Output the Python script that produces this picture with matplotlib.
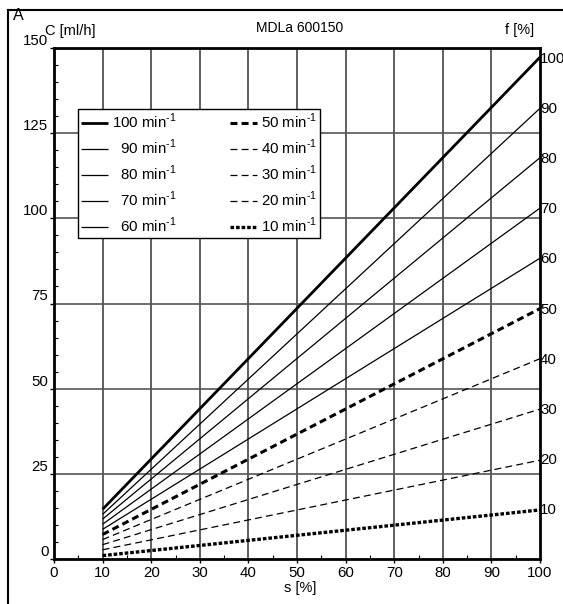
import matplotlib
matplotlib.use("Agg")
import matplotlib.pyplot as plt
from matplotlib.lines import Line2D

plt.rcParams['font.family'] = ['Liberation Sans', 'DejaVu Sans']
plt.rcParams['font.size'] = 10.5
plt.rcParams['lines.scale_dashes'] = False
plt.rcParams['mathtext.fontset'] = 'custom'
plt.rcParams['mathtext.rm'] = 'Liberation Sans'

# stroke s [%] -> capacity C [ml/h] for each stroke rate
speeds = [100, 90, 80, 70, 60, 50, 40, 30, 20, 10]
s_pts = [10, 100]
c_at_10 = [14.6, 13.1, 11.7, 10.2, 8.7, 7.2, 5.7, 4.2, 2.7, 1.0]
c_at_100 = [147.3, 132.3, 117.8, 103.0, 88.3, 73.5, 58.8, 44.0, 29.0, 14.4]
f_ticks = [10, 20, 30, 40, 50, 60, 70, 80, 90, 100]
c_at_f100 = 147.3

styles = {
    100: dict(lw=2.0, ls='-'),
    90: dict(lw=0.9, ls='-'), 80: dict(lw=0.9, ls='-'),
    70: dict(lw=0.9, ls='-'), 60: dict(lw=0.9, ls='-'),
    50: dict(lw=2.2, ls=(0, (5, 3))),
    40: dict(lw=0.9, ls=(0, (5, 3))), 30: dict(lw=0.9, ls=(0, (5, 3))),
    20: dict(lw=0.9, ls=(0, (5, 3))),
    10: dict(lw=2.4, ls=(0, (2.6, 1.4))),
}

fig = plt.figure(figsize=(5.63, 6.04), dpi=100)
ax = fig.add_axes([54/563, 45/604, 486/563, 511/604])

ax.set_xlim(0, 100)
ax.set_ylim(0, 150)

for x in range(10, 100, 10):
    ax.axvline(x, color='#333333', lw=1.1, zorder=1)
for y in [25, 50, 75, 100, 125]:
    ax.axhline(y, color='#555555', lw=1.2, zorder=1)

handles = []
for sp, c0, c1 in zip(speeds, c_at_10, c_at_100):
    st = styles[sp]
    pad = '  ' if 50 < sp < 100 else ''
    lab = pad + '%d min$^{\\text{-}1}$' % sp
    h, = ax.plot(s_pts, [c0, c1], color='black', lw=st['lw'], ls=st['ls'],
                 label=lab, zorder=3, solid_capstyle='butt', dash_capstyle='butt')
    handles.append(h)

for sp in ['left', 'bottom', 'top', 'right']:
    ax.spines[sp].set_linewidth(2.0)
    ax.spines[sp].set_zorder(4)

ax.set_xticks(range(0, 101, 10))
ax.set_xticks(range(5, 100, 10), minor=True)
ax.set_yticks([0, 25, 50, 75, 100, 125, 150])
ax.set_yticks(range(5, 150, 5), minor=True)
ax.tick_params(axis='x', which='major', direction='out', length=3, width=1, labelsize=10.8, pad=2)
ax.tick_params(axis='x', which='minor', direction='in', length=3, width=0.8)
ax.tick_params(axis='y', which='major', direction='out', length=3, width=1, labelsize=10.8, pad=1)
ax.tick_params(axis='y', which='minor', direction='in', length=3, width=0.8)
for lab in ax.get_yticklabels():
    lab.set_verticalalignment('bottom')

ax2 = ax.twinx()
ax2.set_ylim(0, 150 / c_at_f100 * 100)
ax2.set_yticks(f_ticks)
ax2.tick_params(axis='y', length=0, labelsize=10.8, pad=0)
for sp in ax2.spines.values():
    sp.set_visible(False)

leg = ax.legend(handles=handles, ncol=2, loc='upper left',
                bbox_to_anchor=(0.049, 0.618, 0.498, 0.263), mode='expand',
                borderaxespad=0, fancybox=False, framealpha=1, edgecolor='black',
                handlelength=1.8, handletextpad=0.25, labelspacing=0.45,
                columnspacing=1.0, fontsize=10.8, borderpad=0.2)
leg.get_frame().set_linewidth(1.0)
leg.set_zorder(5)

fig.text(300/563, 1 - 28/604, 'MDLa 600150', ha='center', va='center', fontsize=10)
fig.text(13/563, 1 - 15/604, 'A', ha='left', va='center', fontsize=11.5)
fig.text(70/563, 1 - 31/604, 'C [ml/h]', ha='center', va='center', fontsize=10.5)
fig.text(520/563, 1 - 30/604, 'f [%]', ha='center', va='center', fontsize=10.5)
fig.text(300/563, 1 - 588/604, 's [%]', ha='center', va='center', fontsize=10.5)

fig.add_artist(Line2D([8/563, 1.0], [1 - 10/604, 1 - 10/604], color='black', lw=1.5))
fig.add_artist(Line2D([8/563, 8/563], [0.0, 1 - 10/604], color='black', lw=1.5))

fig.savefig('out.png', dpi=100)
